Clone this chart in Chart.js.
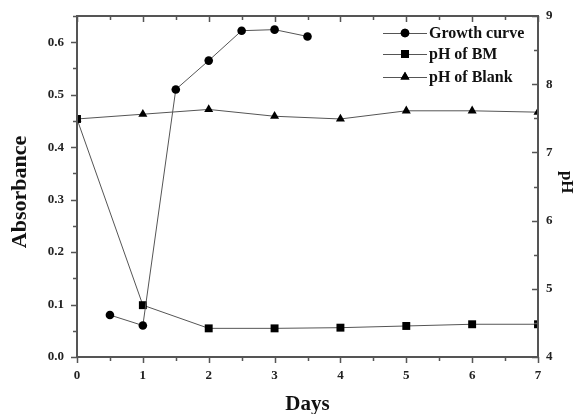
<!DOCTYPE html>
<html>
<head>
<meta charset="utf-8">
<script src="https://cdn.jsdelivr.net/npm/chart.js@4.4.1/dist/chart.umd.min.js"></script>
<style>
  html, body { margin: 0; padding: 0; background: #fff; }
  #wrap { width: 581px; height: 414px; position: relative; }
</style>
</head>
<body>
<div id="wrap"><canvas id="c" width="581" height="414"></canvas></div>
<script>
// ---- data ----
const growthDays = [0.5, 1, 1.5, 2, 2.5, 3, 3.5];
const growthAbs  = [0.08, 0.06, 0.51, 0.565, 0.622, 0.624, 0.611];
const phDays     = [0, 1, 2, 3, 4, 5, 6, 7];
const phBM       = [7.49, 4.76, 4.42, 4.42, 4.43, 4.455, 4.48, 4.48];
const phBlank    = [7.49, 7.56, 7.63, 7.53, 7.49, 7.61, 7.61, 7.59];
const seriesNames = ['Growth curve', 'pH of BM', 'pH of Blank'];
const xTitle = 'Days';
const yTitle = 'Absorbance';
const y2Title = 'pH';

const FONT = "'Liberation Serif', 'Times New Roman', serif";
const AXIS_COLOR = '#555';
const LINE_COLOR = '#555';
const MARK_COLOR = '#000';

function pts(xs, ys) { return xs.map((x, i) => ({ x: x, y: ys[i] })); }

const styles = [
  { pointStyle: 'circle', pointRadius: 4.3 },
  { pointStyle: 'rect', pointRadius: 5.6 },
  { pointStyle: 'triangle', pointRadius: 5.2 }
];

const frameTicks = {
  id: 'frameTicks',
  afterDatasetsDraw(chart) {
    const ctx = chart.ctx;
    const a = chart.chartArea;
    const sx = chart.scales.x, sy = chart.scales.y, sy2 = chart.scales.y2;
    ctx.save();
    ctx.strokeStyle = AXIS_COLOR;
    ctx.lineWidth = 1.5;
    ctx.beginPath();
    for (let d = 0; d <= 7.0001; d += 0.5) {
      const px = Math.round(sx.getPixelForValue(d)) + 0.5;
      const major = Math.abs(d - Math.round(d)) < 1e-6;
      const len = major ? 6 : 4;
      ctx.moveTo(px, a.bottom); ctx.lineTo(px, a.bottom + len);
      ctx.moveTo(px, a.top); ctx.lineTo(px, a.top + len);
    }
    for (let k = 0; k <= 13; k++) {
      const v = k * 0.05;
      const py = Math.round(sy.getPixelForValue(v)) + 0.5;
      const len = (k % 2 === 0) ? 6 : 4;
      ctx.moveTo(a.left, py); ctx.lineTo(a.left - len, py);
    }
    for (let k = 0; k <= 10; k++) {
      const v = 4 + k * 0.5;
      const py = Math.round(sy2.getPixelForValue(v)) + 0.5;
      const len = (k % 2 === 0) ? 6 : 4;
      ctx.moveTo(a.right, py); ctx.lineTo(a.right - len, py);
    }
    ctx.stroke();
    ctx.lineWidth = 2;
    ctx.strokeRect(a.left, a.top, a.right - a.left, a.bottom - a.top);

    // legend
    const lx0 = a.right - 155, lx1 = a.right - 111, mx = a.right - 133, tx = a.right - 109;
    const rowY = [a.top + 17, a.top + 38, a.top + 61];
    chart.data.datasets.forEach((ds, i) => {
      const y = rowY[i];
      ctx.strokeStyle = LINE_COLOR;
      ctx.lineWidth = 1;
      ctx.beginPath(); ctx.moveTo(lx0, y + 0.5); ctx.lineTo(lx1, y + 0.5); ctx.stroke();
      ctx.fillStyle = MARK_COLOR;
      Chart.helpers.drawPoint(ctx, { pointStyle: ds.pointStyle, radius: ds.pointRadius, borderWidth: 0, rotation: 0 }, mx, y);
      ctx.fill();
      ctx.fillStyle = '#111';
      ctx.font = 'bold 16px ' + FONT;
      ctx.textAlign = 'left';
      ctx.textBaseline = 'middle';
      ctx.fillText(ds.label, tx, y + 1);
    });
    ctx.restore();
  }
};

new Chart(document.getElementById('c'), {
  type: 'line',
  data: {
    datasets: [
      { label: seriesNames[0], data: pts(growthDays, growthAbs), yAxisID: 'y' },
      { label: seriesNames[1], data: pts(phDays, phBM), yAxisID: 'y2' },
      { label: seriesNames[2], data: pts(phDays, phBlank), yAxisID: 'y2' }
    ].map((d, i) => Object.assign(d, styles[i], {
      borderColor: LINE_COLOR, borderWidth: 1,
      backgroundColor: MARK_COLOR, pointBackgroundColor: MARK_COLOR,
      pointBorderColor: MARK_COLOR, pointBorderWidth: 0,
      tension: 0, fill: false
    }))
  },
  options: {
    responsive: false,
    animation: false,
    events: [],
    layout: { padding: { top: 16, left: 0, right: 0, bottom: 0 } },
    plugins: { legend: { display: false }, tooltip: { enabled: false } },
    scales: {
      x: {
        type: 'linear', position: 'bottom', min: 0, max: 7,
        grid: { display: false, drawTicks: true, tickLength: 6 },
        border: { display: false },
        ticks: { stepSize: 1, padding: 5, color: '#222', font: { family: FONT, size: 13, weight: 'bold' } },
        title: { display: true, text: xTitle, color: '#111', padding: { top: 0, bottom: -3 }, font: { family: FONT, size: 21, weight: 'bold' } },
        afterFit(s) { s.height = 57; }
      },
      y: {
        type: 'linear', position: 'left', min: 0, max: 0.65,
        grid: { display: false, drawTicks: true, tickLength: 6 },
        border: { display: false },
        ticks: { stepSize: 0.1, padding: 7, color: '#222', font: { family: FONT, size: 13, weight: 'bold' },
          callback: v => (Math.abs(v * 10 - Math.round(v * 10)) < 1e-6 ? v.toFixed(1) : '') },
        title: { display: true, text: yTitle + '  ', color: '#111', padding: { top: 7, bottom: 0 }, font: { family: FONT, size: 22, weight: 'bold' } },
        afterFit(s) { s.width = 77; }
      },
      y2: {
        type: 'linear', position: 'right', min: 4, max: 9,
        grid: { display: false, drawTicks: false },
        border: { display: false },
        ticks: { stepSize: 1, padding: 8, color: '#222', font: { family: FONT, size: 13, weight: 'bold' } },
        title: { display: true, text: y2Title + '  ', color: '#111', padding: { top: 4, bottom: 0 }, font: { family: FONT, size: 17, weight: 'bold' } },
        afterFit(s) { s.width = 43; }
      }
    }
  },
  plugins: [frameTicks]
});
</script>
</body>
</html>
